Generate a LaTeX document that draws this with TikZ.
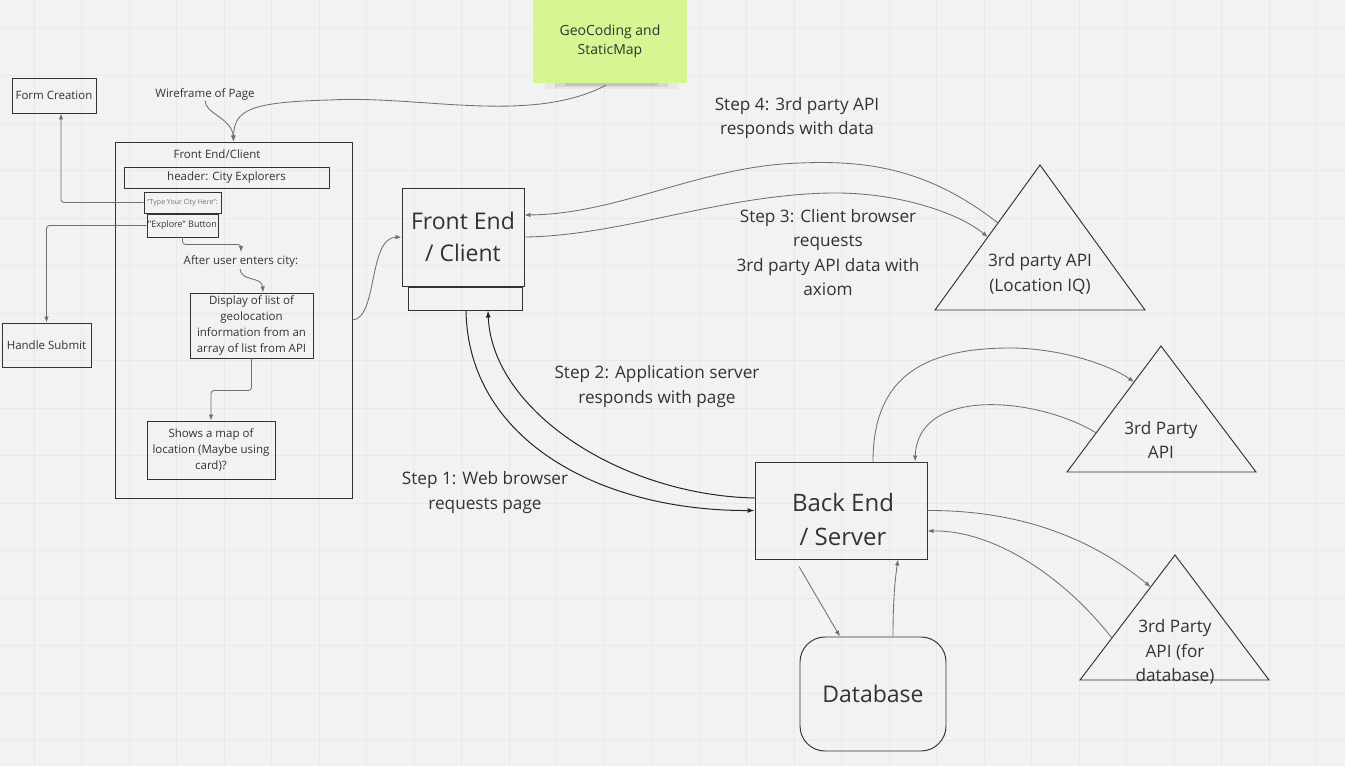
\documentclass[tikz,border=0pt]{standalone}
\usepackage{fontspec}
\setmainfont{Open Sans}
\usetikzlibrary{arrows.meta,calc}
\definecolor{bg}{HTML}{F2F2F2}
\definecolor{gridc}{HTML}{E9E9E9}
\definecolor{ink}{HTML}{333333}
\definecolor{conn}{HTML}{707070}
\definecolor{sticky}{HTML}{D5F692}
\begin{document}
\begin{tikzpicture}[x=1pt,y=-1pt,
  box/.style={draw=ink, line width=0.95pt, text=ink, align=center, inner sep=0pt},
  lbl/.style={text=ink, align=center, inner sep=0pt},
  small/.style={font=\fontsize{11.5}{16}\selectfont},
  big/.style={font=\fontsize{17.2}{24.6}\selectfont},
  huge/.style={font=\fontsize{23}{32}\selectfont},
  conn/.style={draw=conn, line width=0.85pt, -{Latex[length=6pt,width=4.5pt]}},
  connk/.style={draw=black!85, line width=1pt, -{Latex[length=7pt,width=5pt]}},
  tri/.style={draw=ink, line width=0.95pt}]
\useasboundingbox (0,0) rectangle (1345,766);
\fill[bg] (0,0) rectangle (1345,766);
\foreach \i in {0,...,27} {\draw[gridc, line width=0.6pt] (34.2+47.5*\i,0) -- (34.2+47.5*\i,766);}
\foreach \j in {0,...,16} {\draw[gridc, line width=0.6pt] (0,28+47.5*\j) -- (1345,28+47.5*\j);}

% sticky note
\fill[black, opacity=0.04] (545,80) rectangle (678,89);
\fill[black, opacity=0.07] (555,81) rectangle (668,87);
\fill[black, opacity=0.09] (565,82) rectangle (658,85.5);
\node[fill=sticky, minimum width=154, minimum height=84, inner sep=0pt, text=ink, align=center,
  font=\fontsize{14}{19}\selectfont] (geo) at (610,41) {GeoCoding and\\StaticMap};

% left side
\node[box, small, minimum width=84, minimum height=35] (form) at (54,95.5) {Form Creation};
\node[box, small, minimum width=89, minimum height=44] (hs) at (46.5,345) {Handle Submit};
\node[lbl, small] (wf) at (205,94.5) {Wireframe of Page};
\node[box, minimum width=237, minimum height=356] (fec) at (233.5,320) {};
\node[lbl, small] (fect) at (217,154.5) {Front End/Client};
\node[box, small, minimum width=205, minimum height=21] (hdr) at (226.5,177.5) {header: City Explorers};
\node[box, minimum width=77, minimum height=21, text=black!55, font=\fontsize{7}{9}\selectfont] (type) at (182.5,202.5) {"Type Your City Here":};
\node[box, minimum width=71, minimum height=23, font=\fontsize{9}{11}\selectfont] (expl) at (182.5,225.5) {"Explore" Button};
\node[lbl, small] (after) at (241,261) {After user enters city:};
\node[box, small, minimum width=123, minimum height=65] (disp) at (251.5,325.5) {Display of list of\\geolocation\\information from an\\array of list from API};
\node[box, small, minimum width=128, minimum height=58] (map) at (211,450) {Shows a map of\\location (Maybe using\\card)?};

\draw[conn, rounded corners=3pt] (type.west) -| ([xshift=7pt]form.south);
\draw[conn, rounded corners=3pt] (expl.west) -| (hs.north);
\draw[conn, rounded corners=3pt] (expl.south) -- ++(0,7) -| ([yshift=3pt]after.north);
\draw[conn] ([xshift=-1pt,yshift=-2pt]after.south) .. controls (241,282) and (262,276) .. ([xshift=11.5pt]disp.north);
\draw[conn, rounded corners=3pt] (disp.south) -- ++(0,32) -| (map.north);
\draw[conn] (wf.south) .. controls (205,114) and (232,118) .. (fec.north);
\draw[conn] ([xshift=-4pt,yshift=-2pt]geo.south) .. controls (530,125) and (420,95) .. (330,100) .. controls (250,102) and (234,110) .. (fec.north);

% front end
\node[box, huge, minimum width=122, minimum height=98] (fe) at (463,237) {Front End\\/ Client};
\node[box, minimum width=114, minimum height=23] (fes) at (465,298.5) {};
\draw[conn] (fec.east) .. controls (378,318) and (368,238) .. (fe.west);

% back end & database
\node[box, minimum width=172, minimum height=97] (be) at (841,510.5) {};
\node[lbl, font=\fontsize{24}{34}\selectfont] (bet) at (843,519.5) {Back End\\/ Server};
\node[box, rounded corners=25pt, font=\fontsize{23}{30}\selectfont, minimum width=146, minimum height=114] (db) at (873,694) {Database};

% triangles
\coordinate (t1a) at (1040,165); \coordinate (t1l) at (935,310); \coordinate (t1r) at (1145,310);
\coordinate (t2a) at (1161,346); \coordinate (t2l) at (1067,472); \coordinate (t2r) at (1256,472);
\coordinate (t3a) at (1175,555); \coordinate (t3l) at (1080,680); \coordinate (t3r) at (1269,680);
\node[lbl, big] (t1t) at (1040,274) {3rd party API\\(Location IQ)};
\node[lbl, big] (t2t) at (1161,440) {3rd Party\\API};
\node[lbl, big] (t3t) at (1175,652) {3rd Party\\API (for\\database)};
\draw[tri] (t1a) -- (t1l) -- (t1r) -- cycle;
\draw[tri] (t2a) -- (t2l) -- (t2r) -- cycle;
\draw[tri] (t3a) -- (t3l) -- (t3r) -- cycle;
\coordinate (t1in) at ($(t1a)!0.497!(t1l)$);
\coordinate (t1out) at ($(t1a)!0.40!(t1l)$);
\coordinate (t2in) at ($(t2a)!0.286!(t2l)$);
\coordinate (t2out) at ($(t2a)!0.69!(t2l)$);
\coordinate (t3in) at ($(t3a)!0.256!(t3l)$);
\coordinate (t3out) at ($(t3a)!0.664!(t3l)$);

% step labels
\node[lbl, big] (s4) at (797,118) {Step 4: 3rd party API\\responds with data};
\node[lbl, big] (s3) at (828,252.5) {Step 3: Client browser\\requests\\3rd party API data with\\axiom};
\node[lbl, big] (s2) at (657,386.5) {Step 2: Application server\\responds with page};
\node[lbl, big] (s1) at (485,492.5) {Step 1: Web browser\\requests page};

% connectors
\draw[conn] (t1out) .. controls (930,170) and (870,160) .. (800,163) .. controls (700,166) and (620,214) .. ([yshift=22pt]fe.east);
\draw[conn] (fe.east) .. controls (620,236) and (720,195) .. (830,193) .. controls (900,192) and (960,214) .. (t1in);
\draw[connk] ([xshift=1pt]fes.south) .. controls (468,440) and (600,511) .. (be.west);
\draw[connk] ([yshift=12.5pt]be.west) .. controls (620,495) and (492,410) .. ([xshift=23pt]fes.south);
\draw[conn] ([xshift=32pt]be.north) .. controls (873,380) and (920,348) .. (1010,348) .. controls (1060,348) and (1110,365) .. (t2in);
\draw[conn] (t2out) .. controls (1040,398) and (918,385) .. ([xshift=74pt]be.north);
\draw[conn] (be.east) .. controls (1030,510) and (1100,545) .. (t3in);
\draw[conn] (t3out) .. controls (1060,572) and (990,530) .. ([yshift=-20.5pt]be.east);
\draw[conn] ([xshift=-42pt,yshift=-7pt]be.south) -- ([xshift=-33pt]db.north);
\draw[conn] ([xshift=20pt]db.north) .. controls (893,600) and (895,580) .. ([xshift=57pt]be.south);
\end{tikzpicture}
\end{document}
